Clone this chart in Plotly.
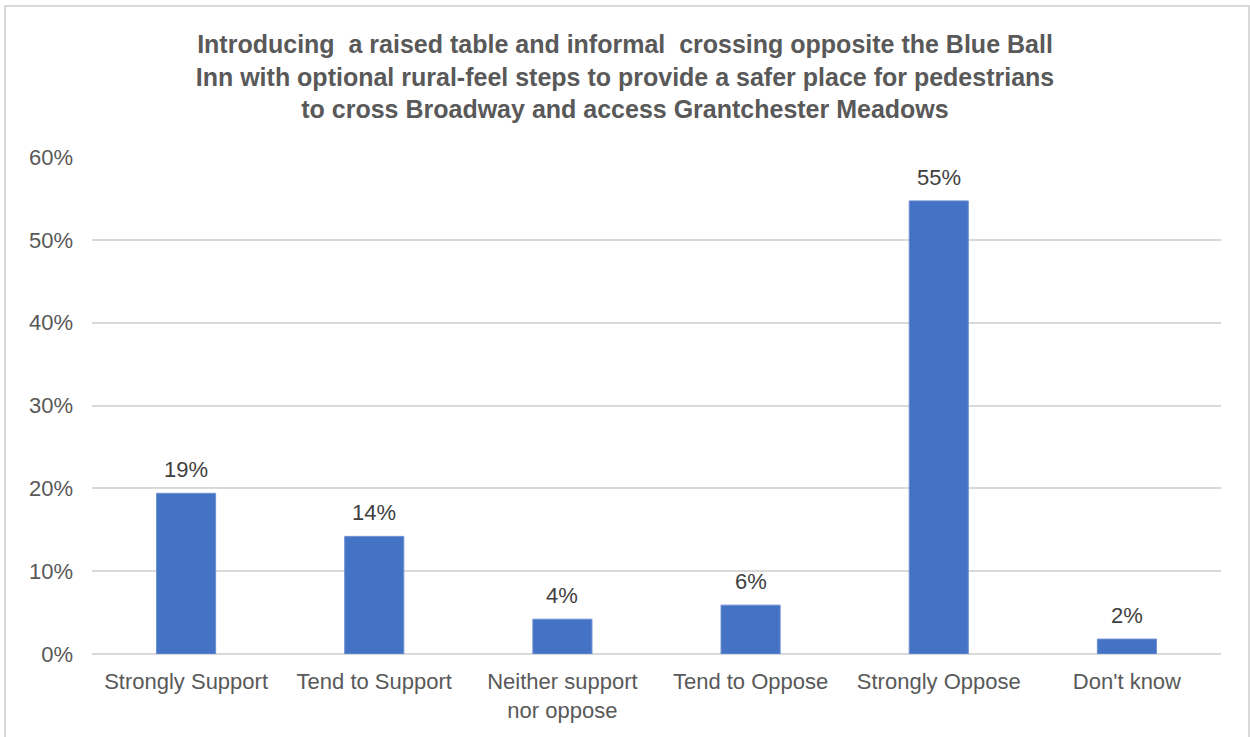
import plotly.graph_objects as go

# Survey responses for the Blue Ball Inn crossing proposal
categories = ["Strongly Support", "Tend to Support", "Neither support<br>nor oppose",
              "Tend to Oppose", "Strongly Oppose", "Don't know"]
shares = [0.194, 0.142, 0.042, 0.059, 0.547, 0.018]
value_labels = ["19%", "14%", "4%", "6%", "55%", "2%"]
y_ticks = [0, 0.1, 0.2, 0.3, 0.4, 0.5, 0.6]
y_tick_labels = ["0%", "10%", "20%", "30%", "40%", "50%", "60%"]

title_text = ("Introducing  a raised table and informal  crossing opposite the Blue Ball<br>"
              "Inn with optional rural-feel steps to provide a safer place for pedestrians<br>"
              "to cross Broadway and access Grantchester Meadows")

W, H = 1250, 737
L, R, T, B = 92, 29, 157, 83
FONT = "Liberation Sans, Arial"
GREY = "#595959"

fig = go.Figure(go.Bar(
    x=categories,
    y=shares,
    marker=dict(color="#4472C4", line=dict(color="#6C8FD2", width=1)),
    width=0.314,
    hoverinfo="skip",
))

# value labels sit just above each bar
for cat, val, lab in zip(categories, shares, value_labels):
    fig.add_annotation(
        x=cat, y=val, text=lab, showarrow=False,
        xanchor="center", yanchor="bottom", yshift=9,
        font=dict(family=FONT, size=22, color="#404040"),
    )

pw = W - L - R
ph = H - T - B

fig.update_layout(
    width=W, height=H,
    margin=dict(l=L, r=R, t=T, b=B),
    paper_bgcolor="white",
    plot_bgcolor="white",
    showlegend=False,
    font=dict(family=FONT, color=GREY, size=22),
    title=dict(
        text=title_text,
        x=0.5, xanchor="center",
        y=1 - 53 / H, yanchor="top",
        font=dict(family=FONT, size=25, color=GREY, weight="bold"),
    ),
    xaxis=dict(
        showgrid=False, showline=False, zeroline=False,
        ticks="", ticklabelstandoff=12,
        tickfont=dict(family=FONT, size=22, color=GREY),
    ),
    yaxis=dict(
        range=[0, 0.6],
        tickvals=y_ticks, ticktext=y_tick_labels,
        showgrid=True, gridcolor="#D9D9D9", gridwidth=2,
        zeroline=True, zerolinecolor="#D9D9D9", zerolinewidth=2,
        showline=False, ticks="", ticklabelstandoff=18,
        tickfont=dict(family=FONT, size=22, color=GREY),
    ),
    shapes=[dict(
        type="rect", xref="paper", yref="paper",
        x0=(5 - L) / pw, x1=(1249 - L) / pw,
        y0=1 - (745 - T) / ph, y1=1 + (T - 6) / ph,
        line=dict(color="#D9D9D9", width=2),
        fillcolor="rgba(0,0,0,0)", layer="below",
    )],
)

fig.write_html("out.html")
